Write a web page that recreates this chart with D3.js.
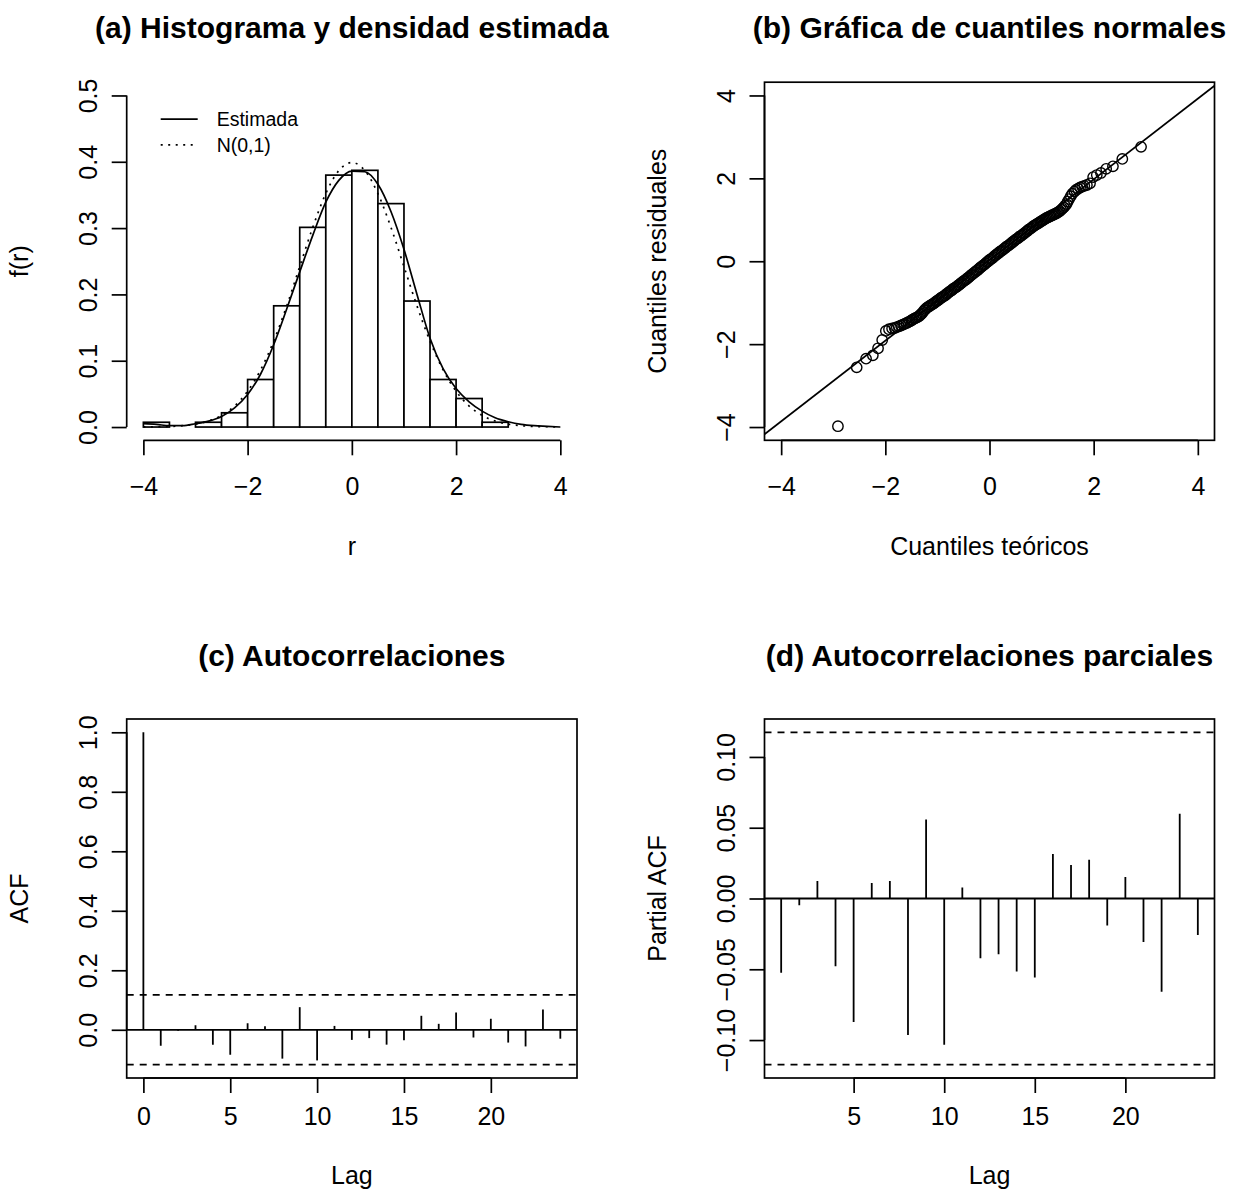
<!DOCTYPE html>
<html lang="es">
<head>
<meta charset="UTF-8">
<title>Diagnóstico de residuales</title>
<script src="https://d3js.org/d3.v7.min.js"></script>
<style>
  body { margin: 0; background: #fff; }
  svg { display: block; font-family: "Liberation Sans", Arial, Helvetica, sans-serif; }
  .axis path, .axis line { stroke: #000; stroke-width: 1.7; fill: none; }
  .axis text { font-size: 25px; font-family: "Liberation Sans", Arial, sans-serif; fill: #000; }
  .frame { fill: none; stroke: #000; stroke-width: 1.7; }
  .title { font-size: 30px; font-weight: bold; text-anchor: middle; }
  .lab { font-size: 25px; text-anchor: middle; }
  .legend text { font-size: 19.5px; }
  .bar { fill: #fff; stroke: #000; stroke-width: 1.7; }
  .curve { fill: none; stroke: #000; stroke-width: 1.7; }
  .dotted { stroke-dasharray: 2, 5.5; }
  .dashed { stroke-dasharray: 7, 6; }
  .pt { fill: none; stroke: #000; stroke-width: 1.4; }
  .spike, .hline { stroke: #000; stroke-width: 1.8; }
</style>
</head>
<body>
<div id="chart"></div>
<script>
// ---- (a) histogram + densities ----
const histBreaks = [-4, -3.5, -3, -2.5, -2, -1.5, -1, -0.5, 0, 0.5, 1, 1.5, 2, 2.5, 3];
const histDensity = [0.0072, 0, 0.0072, 0.0215, 0.0717, 0.1828, 0.3011, 0.3799, 0.3871, 0.3369, 0.19, 0.0717, 0.043, 0.0072];
const densGrid = [-4, -3.75, -3.5, -3.25, -3, -2.75, -2.5, -2.25, -2, -1.75, -1.5, -1.25, -1, -0.75, -0.5, -0.25,
  0, 0.25, 0.5, 0.75, 1, 1.25, 1.5, 1.75, 2, 2.25, 2.5, 2.75, 3, 3.25, 3.5, 3.75, 4];
const densEstimated = [0.005, 0.004, 0.002, 0.002, 0.005, 0.009, 0.016, 0.029, 0.049, 0.08, 0.124, 0.178, 0.234, 0.289, 0.339, 0.372,
  0.386, 0.385, 0.366, 0.325, 0.268, 0.2, 0.134, 0.088, 0.058, 0.038, 0.024, 0.014, 0.008, 0.004, 0.002, 0.001, 0];
const densNormal = [0.0001, 0.0004, 0.0009, 0.002, 0.0044, 0.0091, 0.0175, 0.0317, 0.054, 0.0863, 0.1295, 0.1826, 0.242, 0.3011, 0.3521, 0.3867,
  0.3989, 0.3867, 0.3521, 0.3011, 0.242, 0.1826, 0.1295, 0.0863, 0.054, 0.0317, 0.0175, 0.0091, 0.0044, 0.002, 0.0009, 0.0004, 0.0001];
const legendLabels = ['Estimada', 'N(0,1)'];
const histTicksX = [-4, -2, 0, 2, 4];
const histTicksY = [0, 0.1, 0.2, 0.3, 0.4, 0.5];

// ---- (b) normal quantile plot ----
const qqTheoretical = [
  -2.91, -2.55, -2.37, -2.24, -2.14, -2.06, -1.99, -1.93, -1.87, -1.82, -1.78, -1.74, -1.7, -1.66, -1.63, -1.59, -1.56, -1.53, -1.5, -1.48,
  -1.45, -1.425, -1.4, -1.375, -1.35, -1.325, -1.3, -1.275, -1.25, -1.225, -1.2, -1.175, -1.15, -1.125, -1.1, -1.075, -1.05, -1.025,
  -1, -0.975, -0.95, -0.925, -0.9, -0.875, -0.85, -0.825, -0.8, -0.775, -0.75, -0.725, -0.7, -0.675, -0.65, -0.625, -0.6, -0.575,
  -0.55, -0.525, -0.5, -0.475, -0.45, -0.425, -0.4, -0.375, -0.35, -0.325, -0.3, -0.275, -0.25, -0.225, -0.2, -0.175, -0.15, -0.125,
  -0.1, -0.075, -0.05, -0.025, 0, 0.025, 0.05, 0.075, 0.1, 0.125, 0.15, 0.175, 0.2, 0.225, 0.25, 0.275, 0.3, 0.325, 0.35, 0.375,
  0.4, 0.425, 0.45, 0.475, 0.5, 0.525, 0.55, 0.575, 0.6, 0.625, 0.65, 0.675, 0.7, 0.725, 0.75, 0.775, 0.8, 0.825, 0.85, 0.875,
  0.9, 0.925, 0.95, 0.975, 1, 1.025, 1.05, 1.075, 1.1, 1.125, 1.15, 1.175, 1.2, 1.225, 1.25, 1.275, 1.3, 1.325, 1.35, 1.375,
  1.4, 1.425, 1.45,
  1.48, 1.5, 1.53, 1.56, 1.59, 1.63, 1.66, 1.7, 1.74, 1.78, 1.82, 1.87, 1.93, 1.99, 2.06, 2.14, 2.24, 2.37, 2.55, 2.91];
const qqSample = [
  -3.98, -2.56, -2.35, -2.27, -2.1, -1.9, -1.68, -1.64, -1.62, -1.61, -1.59, -1.57, -1.55, -1.53, -1.51, -1.49, -1.47, -1.45, -1.43, -1.41,
  -1.39, -1.37, -1.36, -1.34, -1.32, -1.29, -1.26, -1.22, -1.18, -1.15,
  -1.12, -1.1, -1.08, -1.06, -1.04, -1.02, -1, -0.97, -0.95, -0.93,
  -0.9, -0.88, -0.86, -0.84, -0.82, -0.79, -0.77, -0.74, -0.72, -0.7,
  -0.67, -0.65, -0.63, -0.61, -0.58, -0.56, -0.53, -0.51, -0.48, -0.46,
  -0.44, -0.41, -0.39, -0.36, -0.33, -0.31, -0.28, -0.26, -0.23, -0.21,
  -0.18, -0.15, -0.13, -0.1, -0.08, -0.05, -0.02, 0, 0.03, 0.05,
  0.07, 0.1, 0.13, 0.15, 0.18, 0.2, 0.23, 0.25, 0.27, 0.3,
  0.32, 0.35, 0.37, 0.39, 0.42, 0.44, 0.47, 0.49, 0.52, 0.54,
  0.56, 0.59, 0.61, 0.63, 0.66, 0.68, 0.71, 0.73, 0.76, 0.78,
  0.8, 0.83, 0.85, 0.87, 0.89, 0.91, 0.93, 0.95, 0.97, 0.99,
  1.01, 1.03, 1.05, 1.06, 1.08, 1.09, 1.11, 1.12, 1.14, 1.15,
  1.17, 1.19, 1.21, 1.24, 1.27, 1.3, 1.34,
  1.38, 1.44, 1.5, 1.57, 1.63, 1.68, 1.72, 1.75, 1.78, 1.8, 1.82, 1.84, 1.88, 2.03, 2.08, 2.13, 2.23, 2.29, 2.47, 2.76];
const qqLineIntercept = 0.03;
const qqLineSlope = 0.973;
const qqTicks = [-4, -2, 0, 2, 4];

// ---- (c) ACF, (d) PACF ----
const acfLags = [0, 1, 2, 3, 4, 5, 6, 7, 8, 9, 10, 11, 12, 13, 14, 15, 16, 17, 18, 19, 20, 21, 22, 23, 24];
const acfValues = [1, -0.054, -0.003, 0.015, -0.05, -0.084, 0.022, 0.012, -0.097, 0.076, -0.103, 0.013, -0.034,
  -0.028, -0.05, -0.035, 0.047, 0.02, 0.058, -0.026, 0.037, -0.043, -0.056, 0.068, -0.03];
const pacfLags = [1, 2, 3, 4, 5, 6, 7, 8, 9, 10, 11, 12, 13, 14, 15, 16, 17, 18, 19, 20, 21, 22, 23, 24];
const pacfValues = [-0.0525, -0.0047, 0.0124, -0.0479, -0.0873, 0.011, 0.0124, -0.0964, 0.0558, -0.1034, 0.0077, -0.0422,
  -0.0394, -0.0516, -0.0558, 0.0315, 0.0236, 0.0273, -0.0191, 0.0152, -0.0308, -0.0658, 0.0598, -0.0257];
const confLimit = 0.1174;
const acfTicksX = [0, 5, 10, 15, 20];
const acfTicksY = [0, 0.2, 0.4, 0.6, 0.8, 1];
const pacfTicksX = [5, 10, 15, 20];
const pacfTicksY = [-0.1, -0.05, 0, 0.05, 0.1];

const titles = ['(a) Histograma y densidad estimada', '(b) Gráfica de cuantiles normales',
  '(c) Autocorrelaciones', '(d) Autocorrelaciones parciales'];

// ---- layout ----
const W = 1240, H = 1202;
const cols = [{ l: 126.7, r: 577 }, { l: 764.5, r: 1214.5 }];
// per row: plot region plus offsets of title / tick labels / axis title
const rows = [
  { t: 82.2, b: 440.3, title: 44, tickLab: 55, xlab: 115 },
  { t: 719, b: 1078, title: 53, tickLab: 47, xlab: 106 }
];
const TICK = 15;

const svg = d3.select('#chart').append('svg').attr('width', W).attr('height', H);
svg.append('rect').attr('width', W).attr('height', H).attr('fill', '#fff');

function panel(ci, ri, id) {
  const p = Object.assign({ l: cols[ci].l, r: cols[ci].r }, rows[ri]);
  p.cx = (p.l + p.r) / 2;
  p.cy = (p.t + p.b) / 2;
  svg.append('clipPath').attr('id', 'clip' + id)
    .append('rect').attr('x', p.l).attr('y', p.t).attr('width', p.r - p.l).attr('height', p.b - p.t);
  return p;
}

function axisBottom(p, scale, ticks, fmt) {
  const g = svg.append('g').attr('class', 'axis').attr('transform', `translate(0,${p.b})`)
    .call(d3.axisBottom(scale).tickValues(ticks).tickSize(TICK).tickSizeOuter(0).tickFormat(fmt));
  g.select('.domain').attr('d', `M${scale(ticks[0])},0H${scale(ticks[ticks.length - 1])}`);
  g.selectAll('.tick text').attr('y', p.tickLab).attr('dy', null);
}

function axisLeft(p, scale, ticks, fmt) {
  const g = svg.append('g').attr('class', 'axis').attr('transform', `translate(${p.l},0)`)
    .call(d3.axisLeft(scale).tickValues(ticks).tickSize(TICK).tickSizeOuter(0).tickFormat(fmt));
  g.select('.domain').attr('d', `M0,${scale(ticks[0])}V${scale(ticks[ticks.length - 1])}`);
  // R style: labels parallel to the axis
  g.selectAll('.tick text')
    .attr('transform', 'rotate(-90)')
    .attr('x', 0).attr('y', -30).attr('dy', null)
    .attr('text-anchor', 'middle');
}

function labels(p, title, xlab, ylab) {
  svg.append('text').attr('class', 'title').attr('x', p.cx).attr('y', p.t - p.title).text(title);
  svg.append('text').attr('class', 'lab').attr('x', p.cx).attr('y', p.b + p.xlab).text(xlab);
  svg.append('text').attr('class', 'lab')
    .attr('transform', `translate(${p.l - 99},${p.cy}) rotate(-90)`).text(ylab);
}

function frame(p) {
  svg.append('rect').attr('class', 'frame')
    .attr('x', p.l).attr('y', p.t).attr('width', p.r - p.l).attr('height', p.b - p.t);
}

// ---------- (a) ----------
{
  const p = panel(0, 0, 'a');
  const x = d3.scaleLinear().domain([-4.32, 4.32]).range([p.l, p.r]);
  const y = d3.scaleLinear().domain([-0.02, 0.52]).range([p.b, p.t]);

  svg.append('g').selectAll('rect').data(histDensity).join('rect')
    .attr('class', 'bar')
    .attr('x', (d, i) => x(histBreaks[i]))
    .attr('width', (d, i) => x(histBreaks[i + 1]) - x(histBreaks[i]))
    .attr('y', d => y(d))
    .attr('height', d => y(0) - y(d));

  const line = vals => d3.line()
    .x((d, i) => x(densGrid[i]))
    .y(d => y(d))
    .curve(d3.curveMonotoneX)(vals);

  svg.append('path').attr('class', 'curve').attr('d', line(densEstimated));
  svg.append('path').attr('class', 'curve dotted').attr('d', line(densNormal));

  // legend
  const lg = svg.append('g').attr('class', 'legend');
  legendLabels.forEach((t, i) => {
    const ly = p.t + 37 + i * 25.7;
    lg.append('line').attr('class', 'curve' + (i ? ' dotted' : ''))
      .attr('x1', p.l + 34).attr('x2', p.l + 71).attr('y1', ly).attr('y2', ly);
    lg.append('text').attr('x', p.l + 90).attr('y', ly).attr('dy', '0.35em').text(t);
  });

  axisBottom(p, x, histTicksX, d3.format('d'));
  axisLeft(p, y, histTicksY, d3.format('.1f'));
  labels(p, titles[0], 'r', 'f(r)');
}

// ---------- (b) ----------
{
  const p = panel(1, 0, 'b');
  const x = d3.scaleLinear().domain([-4.32, 4.32]).range([p.l, p.r]);
  const y = d3.scaleLinear().domain([-4.32, 4.32]).range([p.b, p.t]);

  svg.append('line').attr('class', 'curve').attr('clip-path', 'url(#clipb)')
    .attr('x1', x(-4.32)).attr('y1', y(qqLineIntercept + qqLineSlope * -4.32))
    .attr('x2', x(4.32)).attr('y2', y(qqLineIntercept + qqLineSlope * 4.32));

  svg.append('g').selectAll('circle').data(qqSample).join('circle')
    .attr('class', 'pt')
    .attr('cx', (d, i) => x(qqTheoretical[i]))
    .attr('cy', d => y(d))
    .attr('r', 5.2);

  frame(p);
  axisBottom(p, x, qqTicks, d3.format('d'));
  axisLeft(p, y, qqTicks, d3.format('d'));
  labels(p, titles[1], 'Cuantiles teóricos', 'Cuantiles residuales');
}

// ---------- (c) & (d) ----------
function corrPanel(ci, id, lags, vals, xdom, ydom, ticksX, ticksY, fmtY, title, ylab) {
  const p = panel(ci, 1, id);
  const x = d3.scaleLinear().domain(xdom).range([p.l, p.r]);
  const y = d3.scaleLinear().domain(ydom).range([p.b, p.t]);
  const g = svg.append('g').attr('clip-path', `url(#clip${id})`);

  g.append('line').attr('class', 'hline').attr('x1', p.l).attr('x2', p.r).attr('y1', y(0)).attr('y2', y(0));
  [confLimit, -confLimit].forEach(c => {
    g.append('line').attr('class', 'hline dashed')
      .attr('x1', p.l).attr('x2', p.r).attr('y1', y(c)).attr('y2', y(c));
  });
  g.selectAll('.spike').data(vals).join('line')
    .attr('class', 'spike')
    .attr('x1', (d, i) => x(lags[i])).attr('x2', (d, i) => x(lags[i]))
    .attr('y1', y(0)).attr('y2', d => y(d));

  frame(p);
  axisBottom(p, x, ticksX, d3.format('d'));
  axisLeft(p, y, ticksY, fmtY);
  labels(p, title, 'Lag', ylab);
}

corrPanel(0, 'c', acfLags, acfValues, [-0.96, 24.96], [-0.1621, 1.0447],
  acfTicksX, acfTicksY, d3.format('.1f'), titles[2], 'ACF');
corrPanel(1, 'd', pacfLags, pacfValues, [0.08, 24.92], [-0.1268, 0.1268],
  pacfTicksX, pacfTicksY, d3.format('.2f'), titles[3], 'Partial ACF');
</script>
</body>
</html>
